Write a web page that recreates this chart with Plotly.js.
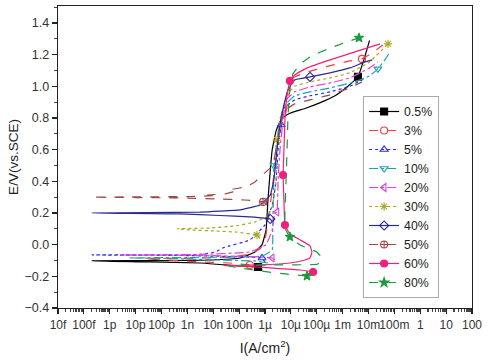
<!DOCTYPE html>
<html><head><meta charset="utf-8">
<script src="https://cdn.plot.ly/plotly-3.0.1.min.js"></script>
<style>html,body{margin:0;padding:0;background:#fff}#chart{width:488px;height:362px}</style>
</head><body><div id="chart"></div>
<script>
// Series names
const seriesNames = ['0.5%','3%','5%','10%','20%','30%','40%','50%','60%','80%'];

// X tick labels (decades 1e-14 ... 1e2)
const xTickVals = [1e-14,1e-13,1e-12,1e-11,1e-10,1e-9,1e-8,1e-7,1e-6,1e-5,1e-4,1e-3,1e-2,1e-1,1,10,100];
const xTickText = ['10f','100f','1p','10p','100p','1n','10n','100n','1µ','10µ','100µ','1m','10m','100m','1','10','100'];

// Current density I (A/cm2) and potential E (V vs SCE)
const I_05 = [7.7e-7,5.4e-7,1.7e-7,2.8e-8,3.1e-9,3.6e-11,2.1e-13,2.1e-10,7.5e-9,1.1e-7,4.1e-7,7.7e-7,1.1e-6,1.3e-6,1.6e-6,1.9e-6,2.7e-6,4.5e-6,9.2e-6,3.5e-5,1.3e-4,5.1e-4,1.6e-3,3.9e-3,6.7e-3,1.1e-2];
const E_05 = [-0.160,-0.141,-0.135,-0.128,-0.116,-0.109,-0.103,-0.100,-0.097,-0.084,-0.046,0.0,0.093,0.28,0.47,0.60,0.72,0.80,0.83,0.86,0.895,0.94,1.0,1.06,1.17,1.29];

const I_3 = [2.6e-7,4.4e-8,3.1e-9,1.4e-10,2.3e-11,3.3e-10,4.8e-9,4.4e-8,2.6e-7,6.4e-7,1.0e-6,1.4e-6,1.9e-6,2.4e-6,3.2e-6,4.5e-6,6.5e-6,8.5e-6,1.1e-5,4.2e-5,3.3e-4,1.9e-3,5.6e-3,1.4e-2,3.6e-2];
const E_3 = [-0.128,-0.116,-0.109,-0.097,-0.090,-0.087,-0.084,-0.078,-0.059,-0.027,0.03,0.18,0.35,0.50,0.66,0.756,0.838,0.95,1.05,1.09,1.13,1.16,1.173,1.211,1.261];

const I_5 = [1.0e-6,7.7e-7,4.4e-8,5.2e-10,2.1e-13,3.1e-9,1.2e-8,2.4e-8,2.6e-7,1.0e-6,2.0e-6,2.7e-6,3.2e-6,4.2e-6,5.4e-6,1.4e-5,5.5e-5,3.3e-4,1.9e-3,7.3e-3];
const E_5 = [-0.11,-0.084,-0.075,-0.068,-0.065,-0.062,-0.046,-0.02,0.03,0.125,0.263,0.41,0.60,0.756,0.863,0.914,0.94,0.965,1.0,1.05];

const I_10 = [1.3e-6,4.1e-7,1.8e-8,2.1e-10,6.1e-12,1.3e-9,1.1e-7,7.7e-7,1.9e-6,2.0e-6,2.1e-6,2.2e-6,2.9e-6,3.8e-6,5.9e-6,1.4e-5,5.5e-5,3.3e-4,3.0e-3,1.1e-2,2.3e-2,4.3e-2,6.8e-2];
const E_10 = [-0.116,-0.103,-0.097,-0.087,-0.084,-0.081,-0.078,-0.072,-0.034,0.093,0.28,0.50,0.66,0.79,0.882,0.94,0.965,0.99,1.028,1.066,1.11,1.167,1.217];

const I_20 = [2.4e-6,1.9e-6,2.6e-7,3.1e-9,2.5e-12,3.1e-9,2.6e-7,1.1e-6,1.9e-6,2.4e-6,2.9e-6,3.2e-6,3.8e-6,5.0e-6,6.5e-6,1.4e-5,5.5e-5,3.3e-4,1.9e-3,1.1e-2,2.3e-2];
const E_20 = [-0.097,-0.084,-0.075,-0.068,-0.065,-0.062,-0.046,0.0,0.093,0.2,0.206,0.41,0.60,0.79,0.914,0.965,0.996,1.021,1.053,1.116,1.154];

const I_30 = [6.4e-7,4.9e-7,6.9e-8,1.2e-8,1.3e-9,4.0e-10,7.5e-9,6.9e-8,4.1e-7,1.3e-6,2.0e-6,2.7e-6,2.9e-6,3.8e-6,5.4e-6,7.1e-6,1.4e-5,5.5e-5,3.3e-4,1.9e-3,1.1e-2,5.7e-2];
const E_30 = [0.04,0.061,0.08,0.086,0.093,0.10,0.105,0.118,0.143,0.18,0.25,0.41,0.66,0.79,0.882,0.946,1.0,1.028,1.053,1.085,1.154,1.268];

const I_40 = [1.9e-6,1.6e-6,2.6e-7,1.8e-8,5.2e-10,2.1e-13,3.1e-9,1.1e-7,6.4e-7,1.6e-6,2.2e-6,2.9e-6,3.8e-6,5.4e-6,7.7e-6,1.4e-5,5.5e-5,3.3e-4,1.9e-3,7.3e-3,1.4e-2];
const E_40 = [0.143,0.162,0.175,0.184,0.194,0.20,0.206,0.22,0.25,0.314,0.41,0.60,0.756,0.882,0.977,1.04,1.059,1.085,1.116,1.154,1.167];

const I_50 = [1.2e-6,8.4e-7,1.7e-7,1.2e-8,5.2e-10,2.1e-13,1.3e-9,1.2e-8,6.0e-9,2.8e-8,6.0e-8,4.0e-8,1.7e-7,4.1e-7,7.7e-7,1.6e-6,2.2e-6,3.2e-6,4.2e-6,5.0e-6,1.4e-5,5.5e-5,3.3e-4,1.9e-3,5.6e-3];
const E_50 = [0.25,0.27,0.282,0.289,0.295,0.30,0.304,0.31,0.315,0.32,0.335,0.345,0.364,0.396,0.44,0.484,0.535,0.661,0.756,0.838,0.889,0.914,0.946,0.99,1.028];

const I_60 = [3.5e-5,7.2e-5,2.3e-5,1.6e-6,1.1e-7,2.8e-8,6.4e-7,9.2e-6,3.5e-5,5.5e-5,6.5e-5,5.5e-5,2.3e-5,9.2e-6,5.9e-6,5.4e-6,5.0e-6,5.4e-6,5.9e-6,7.1e-6,9.2e-6,1.4e-5,4.2e-5,3.3e-4,3.0e-3,2.8e-2];
const E_60 = [-0.19,-0.173,-0.16,-0.147,-0.135,-0.132,-0.128,-0.116,-0.097,-0.084,-0.046,-0.008,0.03,0.067,0.124,0.28,0.44,0.60,0.79,0.946,1.034,1.072,1.116,1.167,1.217,1.268];

const I_80 = [4.2e-5,5.9e-6,6.4e-7,1.1e-7,3.7e-8,1.6e-6,1.1e-4,1.6e-4,1.0e-4,2.3e-5,9.2e-6,5.9e-6,5.9e-6,6.5e-6,7.1e-6,7.7e-6,9.2e-6,1.2e-5,2.3e-5,5.5e-5,3.3e-4,1.2e-3,4.3e-3];
const E_80 = [-0.198,-0.185,-0.166,-0.147,-0.135,-0.128,-0.122,-0.084,-0.046,-0.002,0.049,0.105,0.20,0.40,0.60,0.80,0.99,1.078,1.14,1.186,1.242,1.275,1.306];

// indices of data points that carry a symbol
const markIdx = [[1,23],[0,22],[1,13],[11,20],[1,10],[1,12,21],[1,16],[1],[1,14,16,20],[0,10,22]];

const I_all = [I_05,I_3,I_5,I_10,I_20,I_30,I_40,I_50,I_60,I_80];
const E_all = [E_05,E_3,E_5,E_10,E_20,E_30,E_40,E_50,E_60,E_80];

// styles
const colors = ['#000000','#F03C3C','#2B2BF0','#20A0B0','#E040E0','#A8A820','#2A2A90','#A04848','#F0207A','#1A9A3A'];
const dashes = ['solid','dash','dot','dashdot','dashdot','dot','solid','dash','solid','dash'];
const symbols = ['square','circle-open','triangle-up-open','triangle-down-open','triangle-left-open','asterisk-open','diamond-open','circle-cross-open','circle','star'];

// minor tick positions 2..9 per decade
const xMinor = [];
for (let d = -14; d < 2; d++) for (let m = 2; m <= 9; m++) xMinor.push(m * Math.pow(10, d));

const traces = [];
seriesNames.forEach((nm, k) => {
  traces.push({x: I_all[k], y: E_all[k], type:'scatter', mode:'lines', showlegend:false, hoverinfo:'skip',
    line:{color:colors[k], width:1.2, dash:dashes[k], shape:'spline', smoothing:0.3}});
  traces.push({x: markIdx[k].map(i=>I_all[k][i]), y: markIdx[k].map(i=>E_all[k][i]), type:'scatter', mode:'markers', showlegend:false,
    marker:{symbol:symbols[k], size:7, color:colors[k], line:{color:colors[k], width:1.1}}});
});
seriesNames.forEach((nm, k) => {
  traces.push({x:[null], y:[null], type:'scatter', mode:'lines+markers', name:nm,
    line:{color:colors[k], width:1.2, dash:dashes[k]},
    marker:{symbol:symbols[k], size:7, color:colors[k], line:{color:colors[k], width:1.1}}});
});

const layout = {
  width:488, height:362,
  margin:{l:58, r:16, t:6, b:54},
  paper_bgcolor:'#fff', plot_bgcolor:'#fff',
  font:{family:'Arial, Liberation Sans, sans-serif', color:'#333'},
  xaxis:{type:'log', range:[-14,2], tickmode:'array', tickvals:xTickVals, ticktext:xTickText, tickangle:0,
    ticks:'outside', ticklen:5, tickwidth:1.2, tickcolor:'#222',
    minor:{ticks:'outside', ticklen:2.5, tickmode:'array', tickvals:xMinor, tickcolor:'#444'},
    showgrid:false, zeroline:false, showline:true, mirror:true, linecolor:'#222', linewidth:1.3,
    tickfont:{size:12, color:'#333'},
    title:{text:'I(A/cm<sup>2</sup>)', font:{size:14, color:'#222'}, standoff:12}},
  yaxis:{range:[-0.4,1.507], dtick:0.2, tick0:0, tickformat:'.1f',
    ticks:'outside', ticklen:5, tickwidth:1.2, tickcolor:'#222',
    minor:{ticks:'outside', ticklen:3, dtick:0.1, tickcolor:'#444'},
    showgrid:false, zeroline:false, showline:true, mirror:true, linecolor:'#222', linewidth:1.3,
    tickfont:{size:12.5, color:'#333'},
    title:{text:'E/V(vs.SCE)', font:{size:13.5, color:'#222'}, standoff:2}},
  legend:{x:0.737, y:0.702, xanchor:'left', yanchor:'top', bgcolor:'#fff', bordercolor:'#aaa', borderwidth:1,
    font:{size:12.3, color:'#222'}, tracegroupgap:0, entrywidth:80, entrywidthmode:'pixels'},
  showlegend:true
};
Plotly.newPlot('chart', traces, layout, {staticPlot:true, displayModeBar:false});
</script></body></html>
